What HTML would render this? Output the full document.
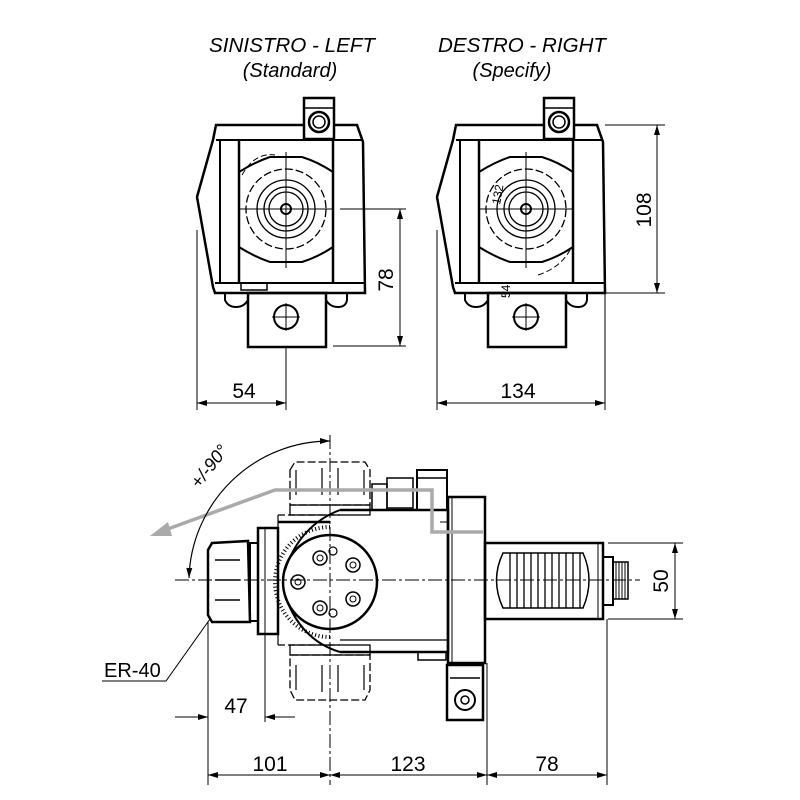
<!DOCTYPE html>
<html><head><meta charset="utf-8"><style>
html,body{margin:0;padding:0;background:#fff}
svg{display:block}
text{font-family:"Liberation Sans",sans-serif;fill:#000}
</style></head><body>
<svg width="800" height="800" viewBox="0 0 800 800" xmlns="http://www.w3.org/2000/svg">
<defs>
<marker id="ar" viewBox="0 0 10 6" refX="10" refY="3" markerWidth="14" markerHeight="6" markerUnits="userSpaceOnUse" orient="auto-start-reverse"><path d="M0,0 L10,3 L0,6 Z" fill="#000"/></marker>
<g id="topv">
 <path d="M216,125 L357,125 L363,142 L365,293 L215,293 L213,287 L197,197 L213,140 Z" fill="none" stroke="#000" stroke-width="2.5"/>
 <line x1="216" y1="140" x2="363" y2="140" stroke="#000" stroke-width="2"/>
 <line x1="215" y1="283" x2="365" y2="283" stroke="#000" stroke-width="2"/>
 <line x1="220" y1="140" x2="220" y2="283" stroke="#000" stroke-width="2"/>
 <line x1="239" y1="140" x2="239" y2="283" stroke="#000" stroke-width="2.5"/>
 <line x1="333" y1="140" x2="333" y2="283" stroke="#000" stroke-width="2.5"/>
 <path d="M239,172 Q255,162 270,157 L302,157 Q318,162 333,172" fill="none" stroke="#000" stroke-width="2"/>
 <path d="M239,247 Q255,257 270,262 L302,262 Q318,257 333,247" fill="none" stroke="#000" stroke-width="2"/>
 <rect x="304" y="98" width="30" height="41" fill="#fff" stroke="#000" stroke-width="2.5"/>
 <line x1="304" y1="108" x2="334" y2="108" stroke="#000" stroke-width="1.5"/>
 <circle cx="319" cy="122" r="10" fill="none" stroke="#000" stroke-width="2.5"/>
 <circle cx="319" cy="122" r="6" fill="none" stroke="#000" stroke-width="1.5"/>
 <circle cx="286" cy="209" r="40" fill="none" stroke="#000" stroke-width="1.3" stroke-dasharray="8,3"/>
 <circle cx="286" cy="209" r="29" fill="none" stroke="#000" stroke-width="1.3"/>
 <circle cx="286" cy="209" r="22" fill="none" stroke="#000" stroke-width="1.3"/>
 <circle cx="286" cy="209" r="17" fill="none" stroke="#000" stroke-width="1.3"/>
 <circle cx="286" cy="209" r="5" fill="none" stroke="#000" stroke-width="2"/>
 <line x1="239" y1="209" x2="333" y2="209" stroke="#000" stroke-width="1"/>
 <line x1="286" y1="152" x2="286" y2="268" stroke="#000" stroke-width="1"/>
 <rect x="248" y="293" width="78" height="54" fill="none" stroke="#000" stroke-width="2.5"/>
 <circle cx="286" cy="317" r="12" fill="none" stroke="#000" stroke-width="2"/>
 <line x1="272" y1="317" x2="300" y2="317" stroke="#000" stroke-width="1"/>
 <line x1="286" y1="303" x2="286" y2="331" stroke="#000" stroke-width="1"/>
 <path d="M225,293 L225,300 Q228,307 236,307 Q244,307 248,300" fill="none" stroke="#000" stroke-width="2"/>
 <path d="M326,300 Q330,307 338,307 Q346,307 347,300 L347,293" fill="none" stroke="#000" stroke-width="2"/>
</g>
</defs>

<!-- titles -->
<text x="292" y="52" font-size="20" font-style="italic" text-anchor="middle" textLength="166" lengthAdjust="spacingAndGlyphs">SINISTRO - LEFT</text>
<text x="290" y="77" font-size="20" font-style="italic" text-anchor="middle">(Standard)</text>
<text x="522" y="52" font-size="20" font-style="italic" text-anchor="middle" textLength="168" lengthAdjust="spacingAndGlyphs">DESTRO - RIGHT</text>
<text x="512" y="77" font-size="20" font-style="italic" text-anchor="middle">(Specify)</text>

<!-- left top view -->
<use href="#topv"/>
<path d="M242,175 Q255,152 275,155" fill="none" stroke="#000" stroke-width="1" stroke-dasharray="6,3"/>
<rect x="241" y="283" width="26" height="7" fill="none" stroke="#000" stroke-width="1.5"/>
<!-- dims left -->
<line x1="340" y1="209" x2="406" y2="209" stroke="#000" stroke-width="1"/>
<line x1="333" y1="346" x2="406" y2="346" stroke="#000" stroke-width="1"/>
<line x1="400" y1="209" x2="400" y2="346" stroke="#000" stroke-width="1" marker-start="url(#ar)" marker-end="url(#ar)"/>
<text x="0" y="0" font-size="21" text-anchor="middle" transform="translate(393,280) rotate(-90)">78</text>
<line x1="197" y1="230" x2="197" y2="410" stroke="#000" stroke-width="1"/>
<line x1="286" y1="347" x2="286" y2="410" stroke="#000" stroke-width="1"/>
<line x1="197" y1="403" x2="286" y2="403" stroke="#000" stroke-width="1" marker-start="url(#ar)" marker-end="url(#ar)"/>
<text x="244" y="398" font-size="21" text-anchor="middle">54</text>

<!-- right top view -->
<g transform="translate(240,0)"><use href="#topv"/></g>
<text x="0" y="0" font-size="12" transform="translate(500,205) rotate(-80)">132</text>
<text x="0" y="0" font-size="12" transform="translate(510,298) rotate(-90)">54</text>
<path d="M538,275 Q560,268 570,250" fill="none" stroke="#000" stroke-width="1" stroke-dasharray="6,3"/>
<!-- dims right -->
<line x1="605" y1="125" x2="665" y2="125" stroke="#000" stroke-width="1"/>
<line x1="605" y1="293" x2="665" y2="293" stroke="#000" stroke-width="1"/>
<line x1="657" y1="125" x2="657" y2="293" stroke="#000" stroke-width="1" marker-start="url(#ar)" marker-end="url(#ar)"/>
<text x="0" y="0" font-size="21" text-anchor="middle" transform="translate(651,210) rotate(-90)">108</text>
<line x1="437" y1="230" x2="437" y2="410" stroke="#000" stroke-width="1"/>
<line x1="605" y1="293" x2="605" y2="410" stroke="#000" stroke-width="1"/>
<line x1="437" y1="403" x2="605" y2="403" stroke="#000" stroke-width="1" marker-start="url(#ar)" marker-end="url(#ar)"/>
<text x="518" y="398" font-size="21" text-anchor="middle">134</text>

<!-- bottom view -->
<g stroke="#000" fill="none">
 <path d="M290,470 L295,462 L365,462 L370,470 L370,505 L290,505 Z" stroke-width="1.3" stroke-dasharray="8,3"/>
 <path d="M290,655 L370,655 L370,690 L365,700 L295,700 L290,690 Z" stroke-width="1.3" stroke-dasharray="8,3"/>
 <rect x="290" y="505" width="80" height="10" stroke-width="1.3"/>
 <rect x="290" y="645" width="80" height="10" stroke-width="1.3"/>
 <path d="M278,515 L340,515 M278,645 L340,645" stroke-width="1.2" stroke-dasharray="7,3"/>
 <path d="M278,530 L278,515 M278,645 L278,634" stroke-width="1.2"/>
 <path d="M296,470 L296,495 M322,468 L322,495 M338,468 L338,495 M364,470 L364,495" stroke-width="1.2"/>
 <path d="M296,665 L296,690 M322,665 L322,692 M338,665 L338,692 M364,665 L364,690" stroke-width="1.2"/>
 <rect x="372" y="484" width="15" height="26" stroke-width="1.5"/>
 <rect x="387" y="478" width="26" height="30" stroke-width="1.5"/>
 <rect x="417" y="470" width="30" height="40" stroke-width="2"/>
 <line x1="417" y1="478" x2="447" y2="478" stroke-width="1.5"/>
 <path d="M212,543 L248,541 L250,622 L212,622 L208,615 L208,550 Z" stroke-width="2.5"/>
 <path d="M215,560 L240,560 M215,580 L240,580 M215,600 L240,600" stroke-width="1.5"/>
 <rect x="250" y="543" width="8" height="78" stroke-width="2"/>
 <rect x="258" y="528" width="20" height="106" stroke-width="2.5"/>
 <line x1="265" y1="528" x2="265" y2="634" stroke-width="1"/>
 <path d="M278,522 L330,522 M340,510 L448,510 L448,652 L340,652" stroke-width="2.5"/>
 <line x1="440" y1="522" x2="448" y2="522" stroke-width="1"/>
 <path d="M340,510 Q300,525 285,570" stroke-width="2"/>
 <path d="M340,652 Q300,640 285,595" stroke-width="2"/>
 <line x1="340" y1="640" x2="448" y2="640" stroke-width="1.2"/>
 <rect x="418" y="652" width="28" height="8" stroke-width="1.5"/>
 <path d="M330,527 A55,55 0 0 0 330,637" stroke-width="4" stroke-dasharray="1,2.5"/>
 <circle cx="330" cy="582" r="47" stroke-width="2.5"/>
 <circle cx="320" cy="558" r="7" stroke-width="1.5"/><circle cx="320" cy="558" r="3" stroke-width="1"/>
 <circle cx="320" cy="608" r="7" stroke-width="1.5"/><circle cx="320" cy="608" r="3" stroke-width="1"/>
 <circle cx="298" cy="582" r="7" stroke-width="1.5"/><circle cx="298" cy="582" r="3" stroke-width="1"/>
 <circle cx="353" cy="565" r="7" stroke-width="1.5"/><circle cx="353" cy="565" r="3" stroke-width="1"/>
 <circle cx="353" cy="599" r="7" stroke-width="1.5"/><circle cx="353" cy="599" r="3" stroke-width="1"/>
 <circle cx="333" cy="551" r="4" stroke-width="1.2"/>
 <circle cx="333" cy="613" r="4" stroke-width="1.2"/>
 <rect x="448" y="497" width="37" height="166" stroke-width="2.5"/>
 <line x1="452" y1="497" x2="452" y2="663" stroke-width="1"/>
 <rect x="447" y="665" width="36" height="55" stroke-width="2.5"/>
 <circle cx="465" cy="700" r="10" stroke-width="2"/>
 <circle cx="465" cy="700" r="4" stroke-width="1.5"/>
 <line x1="450" y1="678" x2="480" y2="678" stroke-width="1.5"/>
 <rect x="485" y="543" width="118" height="76" stroke-width="2.5"/>
 <line x1="598" y1="543" x2="598" y2="619" stroke-width="1"/>
 <path d="M503,553 L583,553 Q595,580 583,608 L503,608 Q490,580 503,553 Z" stroke-width="1.5"/>
 <path d="M510,553 L510,608 M517,553 L517,608 M524,553 L524,608 M531,553 L531,608 M538,553 L538,608 M545,553 L545,608 M552,553 L552,608 M559,553 L559,608 M566,553 L566,608 M573,553 L573,608 M580,553 L580,608" stroke-width="1.3"/>
 <rect x="603" y="557" width="10" height="48" stroke-width="2"/>
 <rect x="613" y="562" width="15" height="37" stroke-width="1.5"/>
 <path d="M616,562 L616,599 M619,562 L619,599 M622,562 L622,599 M625,562 L625,599" stroke-width="1"/>
</g>
<line x1="175" y1="580" x2="640" y2="580" stroke="#000" stroke-width="1" stroke-dasharray="14,3,3,3"/>
<line x1="330" y1="435" x2="330" y2="785" stroke="#000" stroke-width="1" stroke-dasharray="14,3,3,3"/>
<polyline points="483,532 432,532 432,490 275,490 165,530" fill="none" stroke="#aaa" stroke-width="3.5"/>
<path d="M150,536 L168,522 L172,536 Z" fill="#aaa"/>
<path d="M330,441 A141,141 0 0 0 189,578" fill="none" stroke="#000" stroke-width="1.2" marker-start="url(#ar)" marker-end="url(#ar)"/>
<text x="0" y="0" font-size="18" font-style="italic" text-anchor="middle" transform="translate(214,470) rotate(-52)">+/-90°</text>
<text x="104" y="677" font-size="20">ER-40</text>
<polyline points="102,681 166,681 210,619" fill="none" stroke="#000" stroke-width="1"/>
<line x1="208" y1="622" x2="208" y2="785" stroke="#000" stroke-width="1"/>
<line x1="265" y1="634" x2="265" y2="722" stroke="#000" stroke-width="1"/>
<line x1="175" y1="717" x2="208" y2="717" stroke="#000" stroke-width="1" marker-end="url(#ar)"/>
<line x1="295" y1="717" x2="265" y2="717" stroke="#000" stroke-width="1" marker-end="url(#ar)"/>
<text x="236" y="713" font-size="21" text-anchor="middle">47</text>
<line x1="487" y1="663" x2="487" y2="785" stroke="#000" stroke-width="1"/>
<line x1="607" y1="619" x2="607" y2="785" stroke="#000" stroke-width="1"/>
<line x1="208" y1="775" x2="330" y2="775" stroke="#000" stroke-width="1" marker-start="url(#ar)" marker-end="url(#ar)"/>
<line x1="330" y1="775" x2="487" y2="775" stroke="#000" stroke-width="1" marker-start="url(#ar)" marker-end="url(#ar)"/>
<line x1="487" y1="775" x2="607" y2="775" stroke="#000" stroke-width="1" marker-start="url(#ar)" marker-end="url(#ar)"/>
<text x="270" y="771" font-size="21" text-anchor="middle">101</text>
<text x="408" y="771" font-size="21" text-anchor="middle">123</text>
<text x="547" y="771" font-size="21" text-anchor="middle">78</text>
<line x1="608" y1="543" x2="683" y2="543" stroke="#000" stroke-width="1"/>
<line x1="608" y1="619" x2="683" y2="619" stroke="#000" stroke-width="1"/>
<line x1="675" y1="543" x2="675" y2="619" stroke="#000" stroke-width="1" marker-start="url(#ar)" marker-end="url(#ar)"/>
<text x="0" y="0" font-size="21" text-anchor="middle" transform="translate(668,581) rotate(-90)">50</text>
</svg>
</body></html>
